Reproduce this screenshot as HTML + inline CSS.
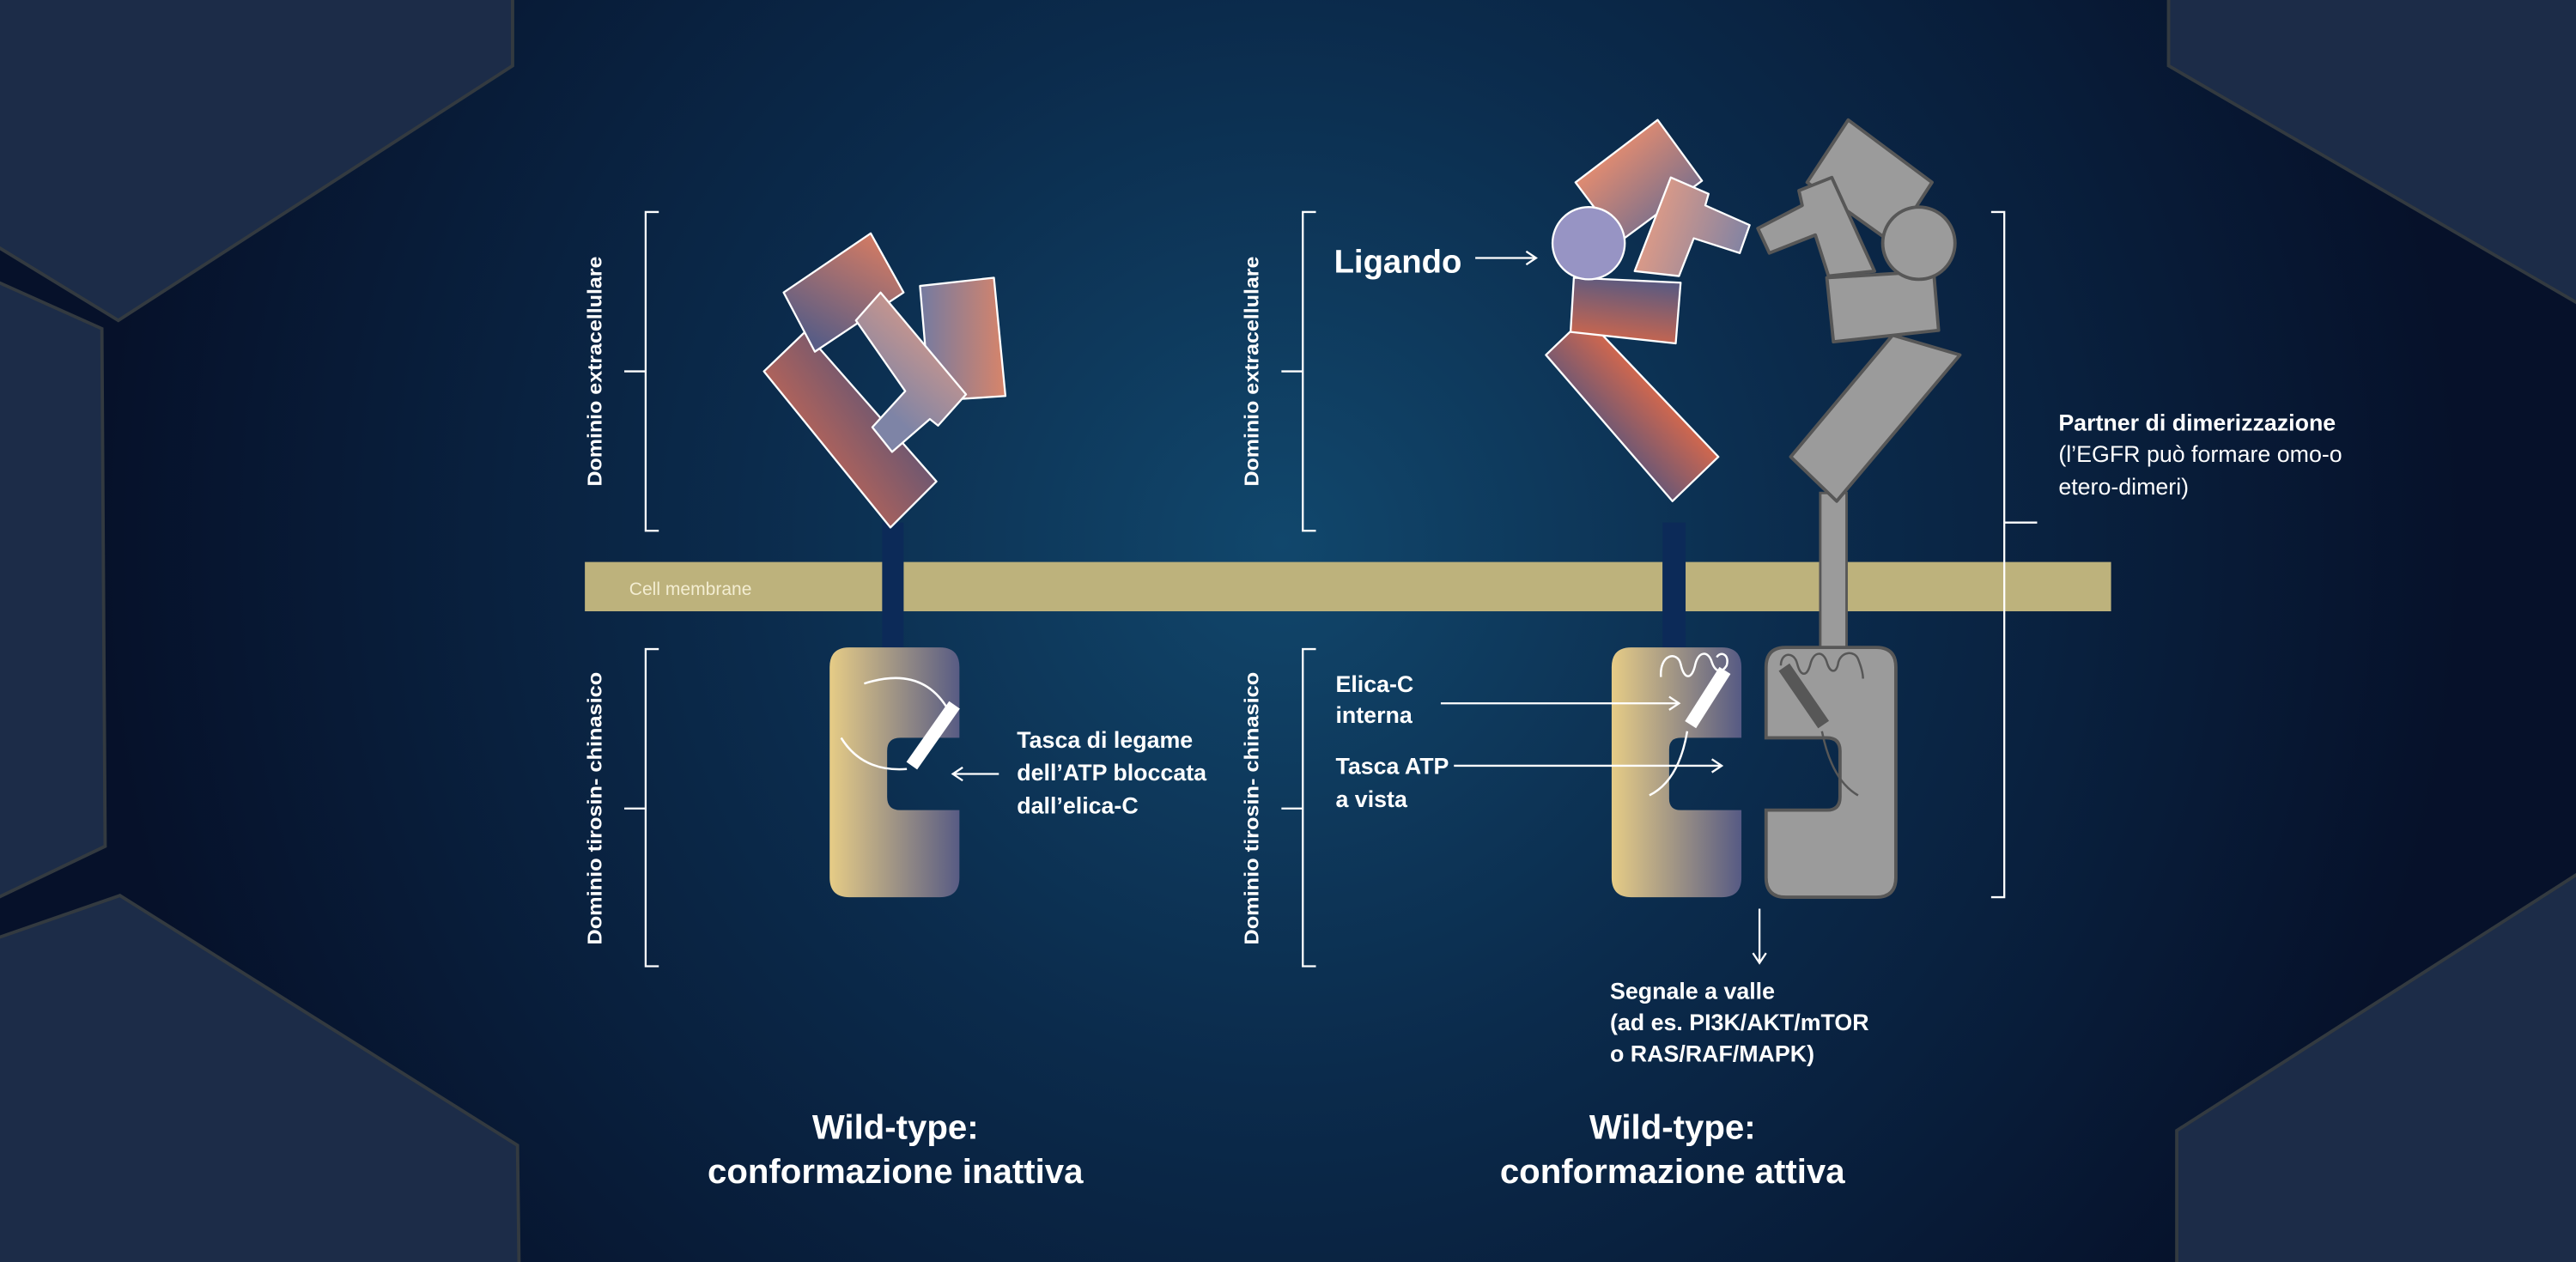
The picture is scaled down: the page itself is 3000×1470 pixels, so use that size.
<!DOCTYPE html>
<html><head><meta charset="utf-8"><style>
html,body{margin:0;padding:0;background:#071228;}
svg{display:block;}
text{font-family:"Liberation Sans",sans-serif;fill:#fff;}
</style></head><body>
<svg width="3000" height="1470" viewBox="0 0 1568 768" preserveAspectRatio="none" xmlns="http://www.w3.org/2000/svg">
<defs>
<radialGradient id="bg" cx="780" cy="330" r="720" gradientUnits="userSpaceOnUse">
<stop offset="0" stop-color="#11476c"/><stop offset="0.45" stop-color="#0b2b4c"/><stop offset="1" stop-color="#06112a"/>
</radialGradient>
<linearGradient id="gB" x1="475" y1="290" x2="560" y2="230" gradientUnits="userSpaceOnUse"><stop offset="0" stop-color="#d4694f"/><stop offset="1" stop-color="#4b517c"/></linearGradient>
<linearGradient id="gA" x1="540" y1="150" x2="505" y2="212" gradientUnits="userSpaceOnUse"><stop offset="0" stop-color="#d07a64"/><stop offset="1" stop-color="#5a5d85"/></linearGradient>
<linearGradient id="gD" x1="562" y1="0" x2="610" y2="0" gradientUnits="userSpaceOnUse"><stop offset="0" stop-color="#787b9f"/><stop offset="1" stop-color="#d4846c"/></linearGradient>
<linearGradient id="gC" x1="585" y1="200" x2="540" y2="250" gradientUnits="userSpaceOnUse"><stop offset="0" stop-color="#db9a87"/><stop offset="1" stop-color="#7e84a6"/></linearGradient>
<linearGradient id="gA2" x1="980" y1="95" x2="1020" y2="140" gradientUnits="userSpaceOnUse"><stop offset="0" stop-color="#dc8a72"/><stop offset="1" stop-color="#6c6c90"/></linearGradient>
<linearGradient id="gT2" x1="1005" y1="130" x2="1065" y2="150" gradientUnits="userSpaceOnUse"><stop offset="0" stop-color="#dc9a87"/><stop offset="1" stop-color="#7e82a4"/></linearGradient>
<linearGradient id="gE2" x1="990" y1="170" x2="985" y2="208" gradientUnits="userSpaceOnUse"><stop offset="0" stop-color="#5c5a80"/><stop offset="1" stop-color="#cc664d"/></linearGradient>
<linearGradient id="gF2" x1="968" y1="270" x2="1005" y2="235" gradientUnits="userSpaceOnUse"><stop offset="0" stop-color="#4f5380"/><stop offset="1" stop-color="#d0674e"/></linearGradient>
<linearGradient id="gK1" x1="505" y1="0" x2="585" y2="0" gradientUnits="userSpaceOnUse"><stop offset="0" stop-color="#e6cc86"/><stop offset="1" stop-color="#565a84"/></linearGradient>
<linearGradient id="gK2" x1="981" y1="0" x2="1060" y2="0" gradientUnits="userSpaceOnUse"><stop offset="0" stop-color="#e6cc86"/><stop offset="1" stop-color="#565a84"/></linearGradient>
<marker id="ar" markerWidth="10" markerHeight="10" refX="8" refY="5" orient="auto" markerUnits="userSpaceOnUse"><path d="M2,1 L8,5 L2,9" fill="none" stroke="#fff" stroke-width="1.2"/></marker>
</defs>
<rect width="1568" height="768" fill="url(#bg)"/>
<g fill="#1c2c48" stroke="#333a40" stroke-width="2">
<polygon points="-5,-5 312,-5 312,40 72,195 -5,148"/>
<polygon points="-5,170 62,200 64,515 -5,548"/>
<polygon points="-5,572 73,545 315,697 316,775 -5,775"/>
<polygon points="1320,-5 1320,40 1575,188 1575,-5"/>
<polygon points="1575,528 1325,688 1325,775 1575,775"/>
</g>
<g fill="#bdb27c">
<rect x="356" y="342" width="181" height="30"/>
<rect x="550" y="342" width="462" height="30"/>
<rect x="1026" y="342" width="259" height="30"/>
</g>
<text x="383" y="362" font-size="11" style="fill:#f3edd2">Cell membrane</text>
<rect x="537" y="318" width="13" height="78" fill="#0c2a58"/>
<rect x="1012" y="318" width="14" height="78" fill="#0c2a58"/>
<rect x="1108" y="300" width="16" height="96" fill="#9b9b9b" stroke="#575757" stroke-width="1.5"/>
<g fill="none" stroke="#fff" stroke-width="1.2">
<path d="M401,129 H393 V323 H401 M393,226 H380"/>
<path d="M401,395 H393 V588 H401 M393,492 H380"/>
<path d="M801,129 H793 V323 H801 M793,226 H780"/>
<path d="M801,395 H793 V588 H801 M793,492 H780"/>
<path d="M1212,129 H1220 V546 H1212 M1220,318 H1240"/>
</g>
<g font-size="12" font-weight="bold" text-anchor="middle">
<text transform="translate(366,226) rotate(-90)" textLength="140" lengthAdjust="spacingAndGlyphs">Dominio extracellulare</text>
<text transform="translate(366,492) rotate(-90)" textLength="166" lengthAdjust="spacingAndGlyphs">Dominio tirosin- chinasico</text>
<text transform="translate(766,226) rotate(-90)" textLength="140" lengthAdjust="spacingAndGlyphs">Dominio extracellulare</text>
<text transform="translate(766,492) rotate(-90)" textLength="166" lengthAdjust="spacingAndGlyphs">Dominio tirosin- chinasico</text>
</g>
<g stroke="#fff" stroke-width="1.2" stroke-linejoin="round">
<polygon points="465,226 490,202 570,293 542,321" fill="url(#gB)"/>
<polygon points="477,178 530,142 550,178 496,214" fill="url(#gA)"/>
<polygon points="560,174 605,169 612,241 566,244" fill="url(#gD)"/>
<polygon points="521,195 536,178 588,240 571,259 566,255 543,275 531,260 551,238" fill="url(#gC)"/>
</g>
<g stroke="#fff" stroke-width="1.2" stroke-linejoin="round">
<polygon points="959,111 1009,73 1036,110 986,147" fill="url(#gA2)"/>
<polygon points="995,165 1017,108 1040,118 1038,125 1065,137 1059,154 1031,145 1022,168" fill="url(#gT2)"/>
<polygon points="941,216 965,193 1046,278 1018,305" fill="url(#gF2)"/>
<polygon points="958,169 1023,172 1020,209 956,202" fill="url(#gE2)"/>
<circle cx="967" cy="148" r="22" fill="#9794c4"/>
</g>
<g fill="#9b9b9b" stroke="#575757" stroke-width="2" stroke-linejoin="round">
<polygon points="1100,111 1125,73 1176,111 1152,148"/>
<polygon points="1141,165 1115,108 1095,116 1097,125 1070,139 1077,154 1105,143 1113,168"/>
<polygon points="1152,204 1193,216 1118,305 1090,278"/>
<polygon points="1112,169 1177,165 1180,201 1116,208"/>
<circle cx="1168" cy="148" r="22"/>
</g>
<path d="M517,394 H572 Q584,394 584,406 V449 H548 Q540,449 540,457 V485 Q540,493 548,493 H584 V534 Q584,546 572,546 H517 Q505,546 505,534 V406 Q505,394 517,394 Z" fill="url(#gK1)"/>
<g fill="none" stroke="#fff" stroke-width="1.3">
<path d="M526,416 Q560,405 576,430"/>
<path d="M512,449 Q525,470 552,468"/>
</g>
<line x1="555" y1="466" x2="581" y2="429" stroke="#fff" stroke-width="8"/>
<line x1="608" y1="471" x2="580" y2="471" stroke="#fff" stroke-width="1.2" marker-end="url(#ar)"/>
<g font-size="14" font-weight="bold">
<text x="619" y="455">Tasca di legame</text>
<text x="619" y="475">dell’ATP bloccata</text>
<text x="619" y="495">dall’elica-C</text>
</g>
<path d="M993,394 H1048 Q1060,394 1060,406 V449 H1023 Q1016,449 1016,456 V486 Q1016,493 1023,493 H1060 V534 Q1060,546 1048,546 H993 Q981,546 981,534 V406 Q981,394 993,394 Z" fill="url(#gK2)"/>
<path d="M1011,412 C1010,398 1021,396 1023,404 C1025,414 1030,414 1032,404 C1034,396 1040,396 1042,403 C1044,409 1048,410 1051,405 C1053,398 1047,396 1045,400" fill="none" stroke="#fff" stroke-width="1.3"/>
<path d="M1027,445 Q1022,475 1004,484" fill="none" stroke="#fff" stroke-width="1.3"/>
<line x1="1029" y1="441" x2="1050" y2="408" stroke="#fff" stroke-width="8"/>
<path d="M1087,394 H1142 Q1154,394 1154,406 V534 Q1154,546 1142,546 H1087 Q1075,546 1075,534 V493 H1112 Q1120,493 1120,485 V457 Q1120,449 1112,449 H1075 V406 Q1075,394 1087,394 Z" fill="#9b9b9b" stroke="#575757" stroke-width="2"/>
<path d="M1084,405 C1084,397 1092,396 1094,404 C1096,412 1100,412 1102,404 C1104,396 1110,396 1112,403 C1114,410 1118,410 1119,403 C1121,396 1129,396 1131,401 C1133,406 1134,410 1134,413" fill="none" stroke="#575757" stroke-width="1.3"/>
<path d="M1109,445 Q1115,475 1131,484" fill="none" stroke="#575757" stroke-width="1.3"/>
<line x1="1086" y1="406" x2="1110" y2="441" stroke="#575757" stroke-width="8"/>
<text x="812" y="166" font-size="20" font-weight="bold">Ligando</text>
<line x1="898" y1="157" x2="935" y2="157" stroke="#fff" stroke-width="1.2" marker-end="url(#ar)"/>
<g font-size="14" font-weight="bold">
<text x="813" y="421">Elica-C</text>
<text x="813" y="440">interna</text>
<text x="813" y="471">Tasca ATP</text>
<text x="813" y="491">a vista</text>
</g>
<line x1="877" y1="428" x2="1022" y2="428" stroke="#fff" stroke-width="1.2" marker-end="url(#ar)"/>
<line x1="885" y1="466" x2="1048" y2="466" stroke="#fff" stroke-width="1.2" marker-end="url(#ar)"/>
<line x1="1071" y1="553" x2="1071" y2="586" stroke="#fff" stroke-width="1.2" marker-end="url(#ar)"/>
<g font-size="14">
<text x="1253" y="262" font-weight="bold">Partner di dimerizzazione</text>
<text x="1253" y="281">(l’EGFR può formare omo-o</text>
<text x="1253" y="301">etero-dimeri)</text>
</g>
<g font-size="14" font-weight="bold">
<text x="980" y="608">Segnale a valle</text>
<text x="980" y="627">(ad es. PI3K/AKT/mTOR</text>
<text x="980" y="646">o RAS/RAF/MAPK)</text>
</g>
<g font-size="21" font-weight="bold" text-anchor="middle">
<text x="545" y="693">Wild-type:</text>
<text x="545" y="720">conformazione inattiva</text>
<text x="1018" y="693">Wild-type:</text>
<text x="1018" y="720">conformazione attiva</text>
</g>
</svg>
</body></html>
